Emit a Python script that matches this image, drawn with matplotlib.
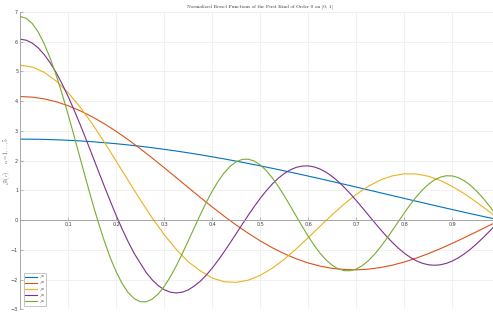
import matplotlib
matplotlib.use("Agg")
import matplotlib.pyplot as plt

plt.rcParams['mathtext.fontset'] = 'cm'

# radius grid for the two slow modes and the third
r = [0.000, 0.025, 0.050, 0.075, 0.100, 0.125, 0.150, 0.175, 0.200, 0.225,
     0.250, 0.275, 0.300, 0.325, 0.350, 0.375, 0.400, 0.425, 0.450, 0.475,
     0.500, 0.525, 0.550, 0.575, 0.600, 0.625, 0.650, 0.675, 0.700, 0.725,
     0.750, 0.775, 0.800, 0.825, 0.850, 0.875, 0.900, 0.925, 0.950, 0.975,
     1.000]

# finer grid for the two fast modes
r_fine = [0.0000, 0.0125, 0.0250, 0.0375, 0.0500, 0.0625, 0.0750, 0.0875, 0.1000, 0.1125,
          0.1250, 0.1375, 0.1500, 0.1625, 0.1750, 0.1875, 0.2000, 0.2125, 0.2250, 0.2375,
          0.2500, 0.2625, 0.2750, 0.2875, 0.3000, 0.3125, 0.3250, 0.3375, 0.3500, 0.3625,
          0.3750, 0.3875, 0.4000, 0.4125, 0.4250, 0.4375, 0.4500, 0.4625, 0.4750, 0.4875,
          0.5000, 0.5125, 0.5250, 0.5375, 0.5500, 0.5625, 0.5750, 0.5875, 0.6000, 0.6125,
          0.6250, 0.6375, 0.6500, 0.6625, 0.6750, 0.6875, 0.7000, 0.7125, 0.7250, 0.7375,
          0.7500, 0.7625, 0.7750, 0.7875, 0.8000, 0.8125, 0.8250, 0.8375, 0.8500, 0.8625,
          0.8750, 0.8875, 0.9000, 0.9125, 0.9250, 0.9375, 0.9500, 0.9625, 0.9750, 0.9875,
          1.0000]

j01 = [2.7241, 2.7217, 2.7143, 2.7020, 2.6849, 2.6629, 2.6362, 2.6048, 2.5688, 2.5283,
       2.4835, 2.4343, 2.3810, 2.3237, 2.2626, 2.1978, 2.1294, 2.0578, 1.9830, 1.9054,
       1.8249, 1.7421, 1.6569, 1.5694, 1.4804, 1.3897, 1.2976, 1.2044, 1.1103, 1.0156,
       0.9205, 0.8252, 0.7299, 0.6351, 0.5408, 0.4474, 0.3548, 0.2636, 0.1740, 0.0861,
       0.0000]

j02 = [4.1562, 4.1365, 4.0774, 3.9800, 3.8456, 3.6760, 3.4738, 3.2417, 2.9831, 2.7014,
       2.4009, 2.0855, 1.7595, 1.4276, 1.0940, 0.7635, 0.4402, 0.1284, -0.1679, -0.4451,
       -0.6998, -0.9292, -1.1306, -1.3020, -1.4418, -1.5492, -1.6234, -1.6604, -1.6731, -1.6501,
       -1.5970, -1.5157, -1.4088, -1.2787, -1.1286, -0.9616, -0.7813, -0.5913, -0.3953, -0.1970,
       0.0000]

j03 = [5.2098, 5.1490, 4.9688, 4.6755, 4.2791, 3.7937, 3.2358, 2.6246, 1.9755, 1.3258,
       0.6814, 0.0681, -0.4948, -0.9853, -1.4049, -1.7066, -1.9512, -2.0732, -2.0941, -2.0192,
       -1.8561, -1.6167, -1.3147, -0.9662, -0.5884, -0.1993, 0.1839, 0.5444, 0.8664, 1.1373,
       1.3471, 1.4883, 1.5568, 1.5517, 1.4754, 1.3336, 1.1344, 0.8885, 0.6083, 0.3076,
       0.0000]

j04 = [6.0837, 6.0507, 5.9522, 5.7900, 5.5664, 5.2852, 4.9511, 4.5692, 4.1458, 3.6876,
       3.2020, 2.6964, 2.1789, 1.6575, 1.1401, 0.6345, 0.1484, -0.3115, -0.7386, -1.1269,
       -1.4472, -1.7681, -2.0134, -2.2053, -2.3422, -2.4235, -2.4502, -2.4238, -2.3468, -2.2163,
       -2.0549, -1.8490, -1.6101, -1.3444, -1.0577, -0.7568, -0.4481, -0.1384, 0.1660, 0.4598,
       0.7348, 0.9885, 1.2139, 1.4084, 1.5684, 1.6910, 1.7749, 1.8186, 1.8227, 1.7873,
       1.7146, 1.6060, 1.4654, 1.2958, 1.1016, 0.8874, 0.6579, 0.4183, 0.1739, -0.0700,
       -0.3083, -0.5361, -0.7487, -0.9417, -1.1114, -1.2546, -1.3686, -1.4515, -1.5018, -1.5191,
       -1.5035, -1.4557, -1.3772, -1.2702, -1.1371, -0.9816, -0.8068, -0.6168, -0.4161, -0.2089,
       0.0000]

j05 = [6.8470, 6.7875, 6.6106, 6.3208, 5.9257, 5.4354, 4.8629, 4.2227, 3.5309, 2.8051,
       2.0635, 1.3243, 0.6055, -0.0759, -0.7043, -1.2657, -1.7482, -2.1427, -2.4422, -2.6430,
       -2.7441, -2.7471, -2.6570, -2.4804, -2.2271, -1.9085, -1.5373, -1.1276, -0.6944, -0.2527,
       0.1826, 0.5975, 0.9789, 1.3147, 1.5955, 1.8137, 1.9638, 2.0424, 2.0489, 1.9852,
       1.8546, 1.6639, 1.4204, 1.1342, 0.8155, 0.4761, 0.1276, -0.2176, -0.5482, -0.8531,
       -1.1224, -1.3480, -1.5227, -1.6417, -1.7019, -1.7026, -1.6447, -1.5311, -1.3668, -1.1582,
       -0.9130, -0.6408, -0.3507, -0.0533, 0.2414, 0.5237, 0.7825, 1.0114, 1.2008, 1.3478,
       1.4454, 1.4917, 1.4859, 1.4290, 1.3235, 1.1739, 0.9854, 0.7663, 0.5226, 0.2642,
       0.0000]

labels = [r'$\mathcal{J}_{01}$', r'$\mathcal{J}_{02}$', r'$\mathcal{J}_{03}$',
          r'$\mathcal{J}_{04}$', r'$\mathcal{J}_{05}$']
colors = ['#0072BD', '#D95319', '#EDB120', '#7E2F8E', '#77AC30']

xticks = [0.1, 0.2, 0.3, 0.4, 0.5, 0.6, 0.7, 0.8, 0.9, 1.0]
xticklabels = ['0.1', '0.2', '0.3', '0.4', '0.5', '0.6', '0.7', '0.8', '0.9', '']
yticks = [-3, -2, -1, 0, 1, 2, 3, 4, 5, 6, 7]


def main():
    fig = plt.figure(figsize=(4.93, 3.14), dpi=100)
    # axes run slightly past the right edge of the picture (cropped like the original)
    ax = fig.add_axes([20.3 / 493, 4.7 / 314, 480 / 493, 297.3 / 314])

    xs = [r, r, r, r_fine, r_fine]
    for x, vals, lab, col in zip(xs, [j01, j02, j03, j04, j05], labels, colors):
        ax.plot(x, vals, color=col, lw=0.8, label=lab)

    ax.set_xlim(0, 1)
    ax.set_ylim(-3, 7)
    ax.set_xticks(xticks)
    ax.set_xticklabels(xticklabels)
    ax.set_yticks(yticks)

    ax.spines['bottom'].set_position(('data', 0))
    ax.spines['top'].set_visible(False)
    ax.spines['right'].set_visible(False)
    for s in ['bottom', 'left']:
        ax.spines[s].set_color('#9a9a9a')
        ax.spines[s].set_linewidth(0.6)

    ax.grid(True, color='#ececec', lw=0.5)
    ax.set_axisbelow(True)
    ax.tick_params(direction='in', length=2, width=0.5, color='#9a9a9a',
                   labelsize=3.5, labelcolor='#404040', pad=1.5)

    ax.set_title('Normalized Bessel Functions of the First Kind of Order 0 on [0, 1]',
                 fontsize=3.6, family='cmr10', color='#303030', pad=3)
    ax.set_ylabel(r'$\mathcal{J}_0(r)\qquad n = 1,\ldots,5$', fontsize=3.8,
                  color='#505050')
    ax.yaxis.set_label_coords(-0.017, 0.5)

    leg = ax.legend(loc='lower left', fontsize=2.1, frameon=True, fancybox=False,
                    edgecolor='#9a9a9a', borderaxespad=1.2, handlelength=4.2,
                    labelspacing=0.0, borderpad=0.3, handletextpad=0.7,
                    handleheight=0.5)
    leg.get_frame().set_linewidth(0.5)

    fig.savefig('out.png', dpi=100)


if __name__ == "__main__":
    main()
